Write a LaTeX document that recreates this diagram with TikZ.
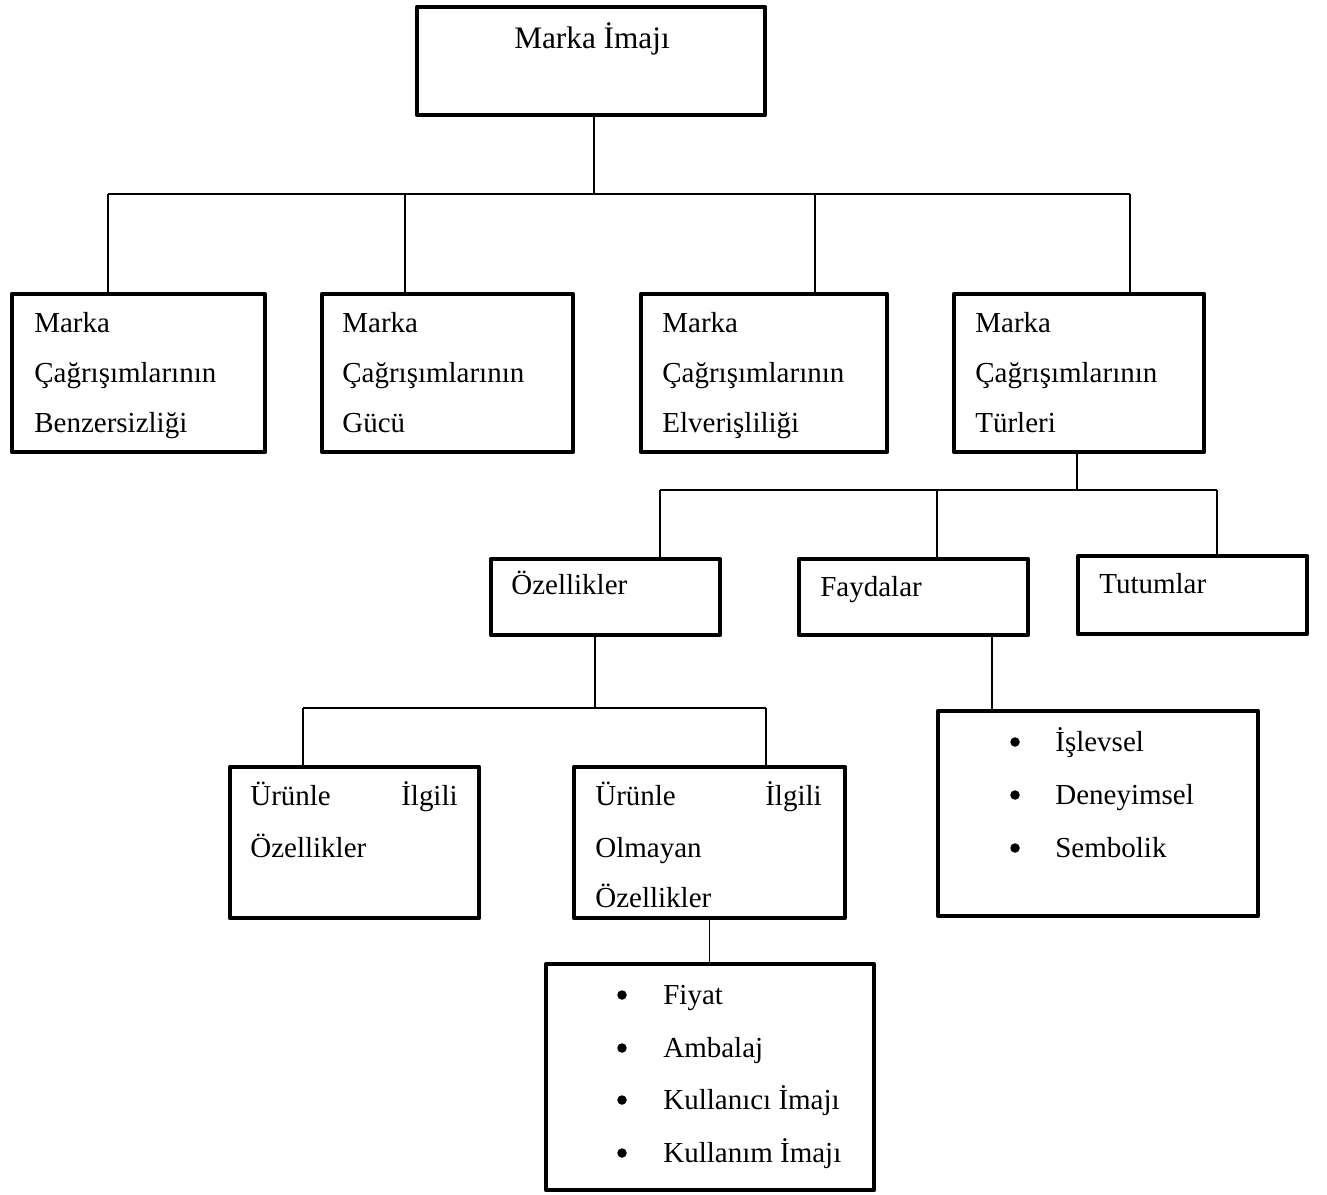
\documentclass[tikz,border=0pt]{standalone}
\usepackage{fontspec}
\setmainfont{Liberation Serif}
\usetikzlibrary{fit}

\begin{document}
\begin{tikzpicture}[
  x=0.02cm, y=-0.02cm,
  box/.style={draw, line width=2.6pt, inner sep=0pt, line join=round},
  conn/.style={line width=0.9pt},
  txt/.style={font=\fontsize{16.5pt}{19pt}\selectfont, inner sep=0pt, anchor=base west},
  jtxt/.style={txt, anchor=base east},
  toptxt/.style={font=\fontsize{17.8pt}{21pt}\selectfont, inner sep=0pt, anchor=base},
  bul/.style={circle, fill, inner sep=0pt, minimum size=0.19cm}
]
\useasboundingbox (0,0) rectangle (1327,1194);

% Boxes
\node[box, fit={(417,7) (765,115)}] (top) {};
\node[box, fit={(12,294) (265,452)}] (b1) {};
\node[box, fit={(322,294) (573,452)}] (b2) {};
\node[box, fit={(641,294) (887,452)}] (b3) {};
\node[box, fit={(954,294) (1204,452)}] (b4) {};
\node[box, fit={(491,559) (720,635)}] (oz) {};
\node[box, fit={(799,559) (1028,635)}] (fay) {};
\node[box, fit={(1078,556) (1307,634)}] (tut) {};
\node[box, fit={(230,767) (479,918)}] (uil) {};
\node[box, fit={(574,767) (845,918)}] (uol) {};
\node[box, fit={(938,711) (1258,916)}] (flist) {};
\node[box, fit={(546,964) (874,1190)}] (olist) {};

% Texts
\node[toptxt] (topt) at (592,48) {Marka İmajı};
\node[txt] (b1a) at (34,332) {Marka};
\node[txt] (b1b) at (34,382) {Çağrışımlarının};
\node[txt] (b1c) at (34,432) {Benzersizliği};
\node[txt] (b2a) at (342,332) {Marka};
\node[txt] (b2b) at (342,382) {Çağrışımlarının};
\node[txt] (b2c) at (342,432) {Gücü};
\node[txt] (b3a) at (662,332) {Marka};
\node[txt] (b3b) at (662,382) {Çağrışımlarının};
\node[txt] (b3c) at (662,432) {Elverişliliği};
\node[txt] (b4a) at (975,332) {Marka};
\node[txt] (b4b) at (975,382) {Çağrışımlarının};
\node[txt] (b4c) at (975,432) {Türleri};
\node[txt] (ozt) at (511,594) {Özellikler};
\node[txt] (fayt) at (820,596) {Faydalar};
\node[txt] (tutt) at (1099,593) {Tutumlar};
\node[txt] (uila) at (250,805) {Ürünle};
\node[jtxt] (uilb) at (458,805) {İlgili};
\node[txt] (uilc) at (250,857) {Özellikler};
\node[txt] (uola) at (595,805) {Ürünle};
\node[jtxt] (uolb) at (822,805) {İlgili};
\node[txt] (uolc) at (595,857) {Olmayan};
\node[txt] (uold) at (595,907) {Özellikler};

% Bullet lists
\foreach \y/\t [count=\i] in {751/İşlevsel, 804/Deneyimsel, 857/Sembolik} {
  \node[bul] (fdot\i) at (1015,\y-9) {};
  \node[txt] (fitem\i) at (1055,\y) {\t};
}
\foreach \y/\t [count=\i] in {1004/Fiyat, 1057/Ambalaj, 1109/Kullanıcı İmajı, 1162/Kullanım İmajı} {
  \node[bul] (odot\i) at (622,\y-9) {};
  \node[txt] (oitem\i) at (663,\y) {\t};
}

% Connectors, level 1
\coordinate (j1) at (594,194);
\coordinate (d1) at (108,194);
\coordinate (d2) at (405,194);
\coordinate (d3) at (815,194);
\coordinate (d4) at (1130,194);
\draw[conn] (top.south -| j1) -- (j1);
\draw[conn] (d1) -- (d4);
\draw[conn] (d1) -- (d1 |- b1.north);
\draw[conn] (d2) -- (d2 |- b2.north);
\draw[conn] (d3) -- (d3 |- b3.north);
\draw[conn] (d4) -- (d4 |- b4.north);

% Connectors, level 2
\coordinate (j2) at (1077,490);
\coordinate (e1) at (660,490);
\coordinate (e2) at (937,490);
\coordinate (e3) at (1217,490);
\draw[conn] (b4.south -| j2) -- (j2);
\draw[conn] (e1) -- (e3);
\draw[conn] (e1) -- (e1 |- oz.north);
\draw[conn] (e2) -- (e2 |- fay.north);
\draw[conn] (e3) -- (e3 |- tut.north);

% Connectors, level 3
\coordinate (j3) at (595,708);
\coordinate (f1) at (303,708);
\coordinate (f2) at (766,708);
\draw[conn] (oz.south -| j3) -- (j3);
\draw[conn] (f1) -- (f2);
\draw[conn] (f1) -- (f1 |- uil.north);
\draw[conn] (f2) -- (f2 |- uol.north);

\coordinate (g1) at (992,700);
\draw[conn] (fay.south -| g1) -- (flist.north -| g1);
\draw[conn] (uol.south) -- (olist.north -| uol.south);

\end{tikzpicture}
\end{document}
